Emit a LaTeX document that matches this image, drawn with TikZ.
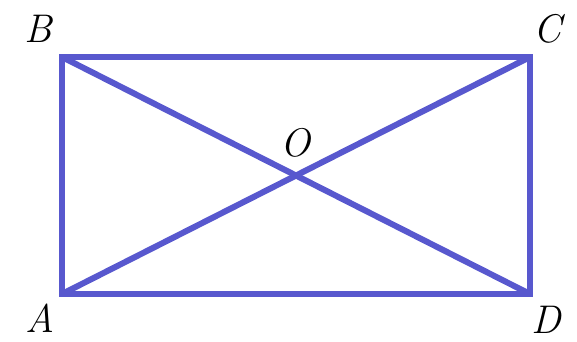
\documentclass[tikz,border=0pt]{standalone}
\usepackage{tikz}
\definecolor{edgeblue}{RGB}{88,88,206}
\tikzset{
  edge/.style={draw=edgeblue, line width=6pt},
  ptlab/.style={font=\fontsize{40}{40}\selectfont\itshape, inner sep=0pt},
}
\begin{document}
\begin{tikzpicture}[x=1pt,y=-1pt]
  \path[use as bounding box] (0,0) rectangle (577,341);

  \coordinate (A) at (62,294);
  \coordinate (B) at (62,57);
  \coordinate (C) at (530,57);
  \coordinate (D) at (530,294);

  \draw[edge] (A) -- (B) -- (C) -- (D) -- cycle;
  \draw[edge] (A) -- (C);
  \draw[edge] (B) -- (D);

  \node[ptlab] (labB) at (38,29) {B};
  \node[ptlab] (labC) at (547,29) {C};
  \node[ptlab] (labO) at (295,143) {O};
  \node[ptlab] (labA) at (40,318) {A};
  \node[ptlab] (labD) at (546,320) {D};
\end{tikzpicture}
\end{document}
